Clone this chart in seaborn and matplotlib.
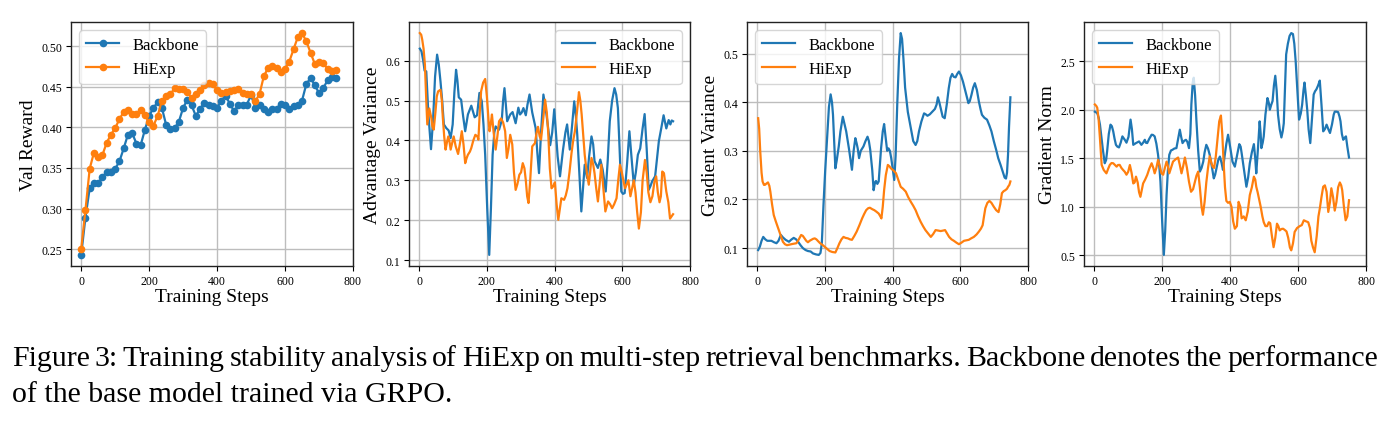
import numpy as np
import matplotlib
matplotlib.use("Agg")
import matplotlib.pyplot as plt
import seaborn as sns

plt.rcParams['font.family'] = ['Liberation Serif', 'DejaVu Serif']
plt.rcParams['mathtext.fontset'] = 'stix'

BLUE = '#1f77b4'
ORANGE = '#ff7f0e'

# ---- panel 1: validation reward (evaluated every 12.5 steps) ----
val_steps = np.arange(0, 751, 12.5)
val_backbone = [0.243, 0.289, 0.325, 0.332, 0.331, 0.339, 0.345, 0.345, 0.349, 0.358,
                0.374, 0.391, 0.393, 0.380, 0.378, 0.397, 0.414, 0.424, 0.431, 0.424,
                0.403, 0.398, 0.399, 0.407, 0.424, 0.434, 0.427, 0.414, 0.423, 0.430,
                0.427, 0.426, 0.424, 0.433, 0.439, 0.429, 0.420, 0.427, 0.428, 0.428,
                0.440, 0.424, 0.428, 0.423, 0.419, 0.422, 0.423, 0.429, 0.427, 0.422,
                0.426, 0.427, 0.433, 0.453, 0.461, 0.452, 0.442, 0.448, 0.458, 0.462,
                0.461]
val_hiexp = [0.250, 0.298, 0.349, 0.369, 0.364, 0.366, 0.381, 0.391, 0.399, 0.410,
             0.419, 0.421, 0.416, 0.417, 0.421, 0.415, 0.406, 0.402, 0.414, 0.433,
             0.438, 0.441, 0.448, 0.447, 0.447, 0.443, 0.436, 0.441, 0.446, 0.452,
             0.455, 0.453, 0.446, 0.442, 0.443, 0.445, 0.446, 0.447, 0.442, 0.441,
             0.441, 0.432, 0.441, 0.463, 0.473, 0.475, 0.473, 0.468, 0.472, 0.481,
             0.496, 0.511, 0.516, 0.506, 0.492, 0.478, 0.480, 0.479, 0.472, 0.469,
             0.471]

# ---- panel 2: advantage variance ----
adv_bb_steps = [2, 7, 12, 16, 21, 27, 35, 41, 47, 53, 58, 63, 68, 73, 80, 87, 93, 99, 104, 109,
                113, 117, 124, 130, 136, 144, 154, 164, 171, 178, 185, 190, 195, 201, 207, 212,
                217, 222, 226, 231, 236, 244, 248, 252, 256, 260, 269, 276, 285, 293, 298, 303,
                308, 315, 320, 326, 334, 344, 349, 354, 360, 367, 376, 381, 387, 393, 399, 404,
                409, 416, 425, 432, 437, 445, 452, 458, 463, 467, 473, 479, 484, 489, 496, 502,
                509, 514, 518, 528, 535, 542, 551, 557, 563, 570, 577, 582, 587, 592, 597, 602,
                607, 614, 621, 627, 634, 640, 646, 653, 660, 666, 672, 678, 683, 688, 697, 702,
                708, 715, 722, 730, 737, 742, 746, 750]
adv_bb_vals = [0.630, 0.623, 0.600, 0.575, 0.573, 0.470, 0.378, 0.450, 0.560, 0.615, 0.590,
               0.548, 0.500, 0.440, 0.431, 0.425, 0.406, 0.440, 0.520, 0.577, 0.550, 0.508,
               0.502, 0.460, 0.423, 0.465, 0.487, 0.458, 0.463, 0.519, 0.498, 0.440, 0.364,
               0.230, 0.113, 0.230, 0.364, 0.420, 0.435, 0.430, 0.427, 0.450, 0.500, 0.531,
               0.490, 0.448, 0.465, 0.471, 0.443, 0.482, 0.465, 0.470, 0.481, 0.463, 0.490,
               0.515, 0.470, 0.431, 0.370, 0.318, 0.420, 0.515, 0.465, 0.431, 0.388, 0.420,
               0.478, 0.420, 0.360, 0.310, 0.377, 0.420, 0.440, 0.377, 0.440, 0.498, 0.460,
               0.414, 0.320, 0.222, 0.280, 0.339, 0.306, 0.360, 0.410, 0.390, 0.348, 0.331,
               0.352, 0.327, 0.272, 0.350, 0.448, 0.500, 0.531, 0.515, 0.481, 0.380, 0.272,
               0.266, 0.268, 0.340, 0.423, 0.360, 0.289, 0.320, 0.364, 0.380, 0.430, 0.466,
               0.380, 0.276, 0.285, 0.297, 0.310, 0.350, 0.398, 0.430, 0.463, 0.430, 0.451,
               0.440, 0.450, 0.448]
adv_hx_steps = [2, 6, 9, 13, 17, 21, 24, 30, 36, 39, 43, 48, 52, 56, 63, 67, 70, 74, 78, 82,
                86, 90, 93, 98, 102, 108, 115, 120, 126, 131, 136, 140, 144, 150, 154, 160, 166,
                172, 175, 179, 183, 189, 195, 200, 205, 208, 212, 215, 220, 226, 231, 236, 242,
                248, 254, 259, 264, 269, 275, 280, 285, 290, 296, 301, 306, 311, 315, 319, 323,
                328, 334, 342, 347, 351, 356, 360, 366, 372, 377, 381, 386, 391, 396, 401, 406,
                411, 416, 420, 428, 433, 438, 444, 450, 455, 460, 466, 472, 476, 480, 485, 489,
                495, 501, 505, 509, 514, 518, 523, 528, 533, 538, 544, 550, 554, 558, 564, 570,
                576, 583, 588, 593, 598, 603, 608, 613, 618, 624, 629, 634, 639, 644, 649, 655,
                660, 667, 672, 677, 683, 689, 695, 700, 705, 710, 714, 718, 723, 730, 736, 741,
                746, 750]
adv_hx_vals = [0.669, 0.665, 0.653, 0.630, 0.590, 0.500, 0.440, 0.480, 0.456, 0.435, 0.427,
               0.470, 0.510, 0.523, 0.527, 0.500, 0.456, 0.410, 0.377, 0.395, 0.410, 0.395,
               0.377, 0.395, 0.410, 0.385, 0.366, 0.390, 0.423, 0.390, 0.343, 0.355, 0.364,
               0.372, 0.381, 0.400, 0.414, 0.410, 0.402, 0.470, 0.523, 0.545, 0.554, 0.510,
               0.450, 0.423, 0.445, 0.465, 0.420, 0.377, 0.410, 0.448, 0.455, 0.445, 0.423,
               0.356, 0.380, 0.414, 0.390, 0.320, 0.276, 0.290, 0.314, 0.320, 0.343, 0.330,
               0.300, 0.260, 0.243, 0.300, 0.385, 0.393, 0.420, 0.434, 0.410, 0.402, 0.450,
               0.502, 0.470, 0.423, 0.330, 0.280, 0.285, 0.295, 0.240, 0.201, 0.230, 0.255,
               0.251, 0.262, 0.280, 0.320, 0.368, 0.400, 0.423, 0.470, 0.521, 0.500, 0.465,
               0.410, 0.364, 0.320, 0.289, 0.320, 0.356, 0.340, 0.318, 0.280, 0.247, 0.290,
               0.339, 0.280, 0.222, 0.235, 0.247, 0.240, 0.230, 0.240, 0.255, 0.300, 0.339,
               0.323, 0.300, 0.280, 0.290, 0.300, 0.260, 0.280, 0.300, 0.270, 0.220, 0.179,
               0.220, 0.300, 0.351, 0.320, 0.270, 0.245, 0.260, 0.297, 0.310, 0.270, 0.245,
               0.260, 0.322, 0.318, 0.272, 0.245, 0.204, 0.210, 0.215]

# ---- panel 3: gradient variance ----
gv_bb_steps = [3, 8, 13, 18, 24, 30, 42, 50, 57, 63, 70, 76, 84, 94, 100, 108, 115, 121, 128,
               135, 143, 150, 158, 165, 174, 182, 187, 191, 196, 201, 206, 212, 217, 221, 224,
               228, 231, 235, 241, 246, 253, 258, 263, 271, 276, 280, 285, 290, 294, 297, 301,
               306, 314, 320, 326, 330, 334, 340, 344, 348, 351, 355, 359, 366, 371, 375, 379,
               384, 388, 392, 396, 400, 405, 409, 414, 419, 424, 428, 432, 437, 445, 454, 461,
               468, 473, 478, 485, 493, 498, 503, 510, 518, 525, 530, 534, 538, 542, 548, 554,
               560, 566, 571, 576, 581, 586, 591, 596, 602, 608, 616, 624, 628, 633, 638, 643,
               649, 655, 660, 664, 671, 679, 686, 692, 699, 706, 712, 719, 725, 731, 735, 738,
               741, 744, 748]
gv_bb_vals = [0.096, 0.103, 0.115, 0.123, 0.118, 0.115, 0.115, 0.112, 0.110, 0.115, 0.127,
              0.122, 0.117, 0.113, 0.117, 0.121, 0.118, 0.113, 0.106, 0.100, 0.096, 0.094,
              0.093, 0.089, 0.087, 0.086, 0.090, 0.110, 0.190, 0.260, 0.320, 0.390, 0.416,
              0.400, 0.374, 0.310, 0.264, 0.280, 0.309, 0.340, 0.370, 0.355, 0.340, 0.305,
              0.280, 0.261, 0.300, 0.326, 0.315, 0.305, 0.285, 0.300, 0.309, 0.320, 0.329,
              0.320, 0.302, 0.260, 0.219, 0.235, 0.238, 0.232, 0.237, 0.305, 0.340, 0.355,
              0.330, 0.300, 0.305, 0.300, 0.285, 0.265, 0.240, 0.290, 0.400, 0.490, 0.542,
              0.530, 0.490, 0.430, 0.380, 0.346, 0.320, 0.312, 0.320, 0.340, 0.360, 0.377,
              0.375, 0.372, 0.375, 0.381, 0.386, 0.395, 0.410, 0.400, 0.388, 0.370, 0.367,
              0.395, 0.429, 0.450, 0.458, 0.452, 0.451, 0.458, 0.463, 0.455, 0.442, 0.420,
              0.398, 0.402, 0.415, 0.430, 0.439, 0.425, 0.401, 0.385, 0.374, 0.368, 0.364,
              0.352, 0.340, 0.320, 0.302, 0.285, 0.271, 0.258, 0.245, 0.243, 0.255, 0.292,
              0.350, 0.410]
gv_hx_steps = [3, 6, 9, 13, 16, 20, 23, 28, 32, 36, 39, 44, 49, 55, 62, 69, 76, 82, 88, 95,
               101, 108, 116, 123, 130, 135, 140, 145, 150, 155, 160, 165, 170, 175, 179, 186,
               194, 204, 214, 222, 231, 237, 243, 249, 255, 261, 268, 274, 280, 287, 294, 302,
               310, 316, 322, 328, 333, 340, 346, 352, 359, 364, 367, 371, 375, 380, 386, 391,
               395, 402, 410, 417, 424, 431, 439, 446, 454, 461, 468, 475, 483, 490, 497, 505,
               513, 520, 527, 535, 542, 549, 555, 561, 567, 574, 581, 589, 596, 603, 611, 618,
               625, 632, 640, 648, 655, 661, 666, 670, 674, 680, 686, 692, 699, 706, 713, 718,
               723, 728, 733, 738, 741, 745, 748]
gv_hx_vals = [0.367, 0.345, 0.300, 0.255, 0.237, 0.230, 0.230, 0.233, 0.235, 0.228, 0.216,
              0.190, 0.168, 0.155, 0.141, 0.127, 0.113, 0.108, 0.106, 0.107, 0.108, 0.109,
              0.110, 0.118, 0.127, 0.125, 0.120, 0.115, 0.112, 0.115, 0.117, 0.119, 0.120,
              0.118, 0.115, 0.110, 0.106, 0.100, 0.094, 0.092, 0.091, 0.100, 0.110, 0.118,
              0.123, 0.121, 0.120, 0.118, 0.117, 0.125, 0.134, 0.147, 0.161, 0.170, 0.178,
              0.182, 0.183, 0.180, 0.178, 0.175, 0.171, 0.165, 0.161, 0.185, 0.219, 0.250,
              0.271, 0.268, 0.264, 0.260, 0.254, 0.240, 0.226, 0.222, 0.216, 0.205, 0.195,
              0.187, 0.178, 0.166, 0.154, 0.145, 0.137, 0.130, 0.123, 0.129, 0.137, 0.136,
              0.135, 0.136, 0.137, 0.130, 0.123, 0.118, 0.115, 0.111, 0.108, 0.111, 0.115,
              0.116, 0.117, 0.120, 0.123, 0.128, 0.134, 0.140, 0.147, 0.165, 0.182, 0.193,
              0.197, 0.193, 0.185, 0.178, 0.174, 0.190, 0.213, 0.217, 0.219, 0.222, 0.226,
              0.230, 0.237]

# ---- panel 4: gradient norm ----
gn_bb_steps = [2, 9, 13, 17, 21, 25, 31, 35, 38, 43, 48, 52, 56, 60, 64, 68, 73, 78, 83, 90,
               95, 101, 107, 111, 115, 123, 132, 139, 144, 149, 152, 156, 162, 169, 173, 178,
               183, 188, 192, 195, 200, 205, 209, 213, 217, 221, 226, 230, 236, 242, 247, 252,
               256, 260, 265, 270, 274, 279, 283, 286, 290, 293, 297, 301, 306, 311, 316, 321,
               325, 330, 335, 340, 346, 352, 356, 360, 365, 370, 375, 379, 383, 389, 394, 400,
               407, 414, 420, 427, 431, 434, 441, 448, 453, 458, 464, 470, 474, 477, 482, 487,
               490, 492, 496, 499, 504, 510, 514, 517, 521, 525, 529, 533, 537, 541, 546, 551,
               555, 558, 562, 565, 570, 575, 580, 585, 589, 593, 598, 603, 608, 612, 616, 619,
               623, 627, 631, 636, 641, 646, 650, 654, 659, 664, 669, 674, 679, 684, 689, 694,
               700, 705, 708, 713, 718, 722, 725, 729, 733, 737, 741, 745, 750]
gn_bb_vals = [1.98, 1.965, 1.92, 1.846, 1.72, 1.604, 1.448, 1.48, 1.569, 1.75, 1.846, 1.83,
              1.777, 1.70, 1.638, 1.62, 1.611, 1.66, 1.725, 1.69, 1.66, 1.72, 1.898, 1.80,
              1.638, 1.656, 1.673, 1.638, 1.66, 1.69, 1.66, 1.656, 1.70, 1.742, 1.74, 1.725,
              1.65, 1.535, 1.40, 1.258, 0.85, 0.503, 0.75, 1.12, 1.38, 1.535, 1.58, 1.586,
              1.60, 1.604, 1.70, 1.794, 1.72, 1.656, 1.68, 1.69, 1.67, 1.604, 1.75, 2.054,
              2.28, 2.33, 2.15, 1.88, 1.58, 1.362, 1.40, 1.465, 1.56, 1.638, 1.60, 1.535,
              1.42, 1.292, 1.33, 1.396, 1.48, 1.517, 1.45, 1.380, 1.50, 1.65, 1.742, 1.62,
              1.465, 1.413, 1.52, 1.645, 1.62, 1.552, 1.38, 1.206, 1.30, 1.448, 1.56, 1.645,
              1.50, 1.344, 1.60, 1.88, 1.75, 1.604, 1.66, 1.725, 1.95, 2.12, 2.07, 2.00, 2.05,
              2.09, 2.25, 2.35, 2.20, 1.95, 1.80, 1.714, 1.78, 1.86, 2.25, 2.57, 2.68, 2.76,
              2.79, 2.78, 2.68, 2.50, 2.20, 1.898, 1.96, 2.05, 2.20, 2.28, 2.15, 2.00, 1.80,
              1.656, 1.90, 2.157, 2.19, 2.21, 2.25, 2.30, 2.05, 1.777, 1.80, 1.846, 1.80, 1.76,
              1.85, 1.95, 1.98, 1.98, 1.975, 1.93, 1.88, 1.75, 1.69, 1.71, 1.725, 1.62, 1.507]
gn_hx_steps = [2, 6, 9, 13, 17, 22, 28, 36, 41, 46, 51, 56, 61, 66, 70, 75, 80, 85, 90, 95,
               100, 105, 110, 115, 119, 123, 128, 132, 136, 140, 144, 150, 156, 162, 169, 174,
               178, 183, 188, 193, 198, 203, 208, 213, 217, 221, 226, 232, 240, 247, 252, 257,
               262, 267, 273, 279, 285, 291, 296, 301, 306, 311, 316, 320, 325, 330, 335, 340,
               345, 349, 353, 358, 363, 368, 373, 377, 381, 385, 389, 394, 399, 404, 409, 414,
               420, 425, 430, 434, 440, 446, 452, 458, 464, 470, 474, 477, 481, 485, 490, 495,
               499, 504, 509, 514, 518, 523, 528, 533, 538, 542, 546, 551, 556, 561, 566, 571,
               576, 580, 585, 590, 597, 605, 611, 617, 623, 630, 635, 639, 644, 649, 655, 660,
               664, 669, 674, 679, 684, 689, 694, 698, 703, 708, 713, 718, 723, 727, 730, 735,
               740, 745, 750]
gn_hx_vals = [2.054, 2.04, 2.02, 1.90, 1.70, 1.431, 1.379, 1.344, 1.39, 1.431, 1.45, 1.448,
              1.43, 1.413, 1.43, 1.431, 1.40, 1.379, 1.36, 1.33, 1.36, 1.43, 1.35, 1.24, 1.25,
              1.31, 1.25, 1.15, 1.102, 1.17, 1.24, 1.28, 1.327, 1.39, 1.448, 1.40, 1.344,
              1.40, 1.483, 1.42, 1.344, 1.33, 1.40, 1.465, 1.42, 1.344, 1.40, 1.465, 1.49,
              1.507, 1.43, 1.344, 1.42, 1.507, 1.40, 1.258, 1.154, 1.18, 1.25, 1.32, 1.362,
              1.20, 1.00, 0.917, 1.05, 1.25, 1.40, 1.52, 1.45, 1.41, 1.40, 1.52, 1.70, 1.88,
              1.94, 1.75, 1.45, 1.20, 1.06, 1.04, 1.05, 1.00, 0.85, 0.773, 0.80, 1.05, 1.00,
              0.88, 0.90, 0.86, 0.95, 1.12, 1.20, 1.31, 1.28, 1.206, 1.15, 1.085, 1.00, 0.90,
              0.84, 0.80, 0.80, 0.84, 0.83, 0.70, 0.583, 0.68, 0.825, 0.80, 0.756, 0.77,
              0.773, 0.76, 0.745, 0.68, 0.58, 0.55, 0.62, 0.74, 0.78, 0.80, 0.81, 0.86, 0.85,
              0.84, 0.78, 0.65, 0.58, 0.53, 0.70, 0.90, 0.98, 1.10, 1.206, 1.22, 1.154, 0.946,
              1.05, 1.19, 1.10, 0.96, 1.05, 1.20, 1.25, 1.22, 1.17, 1.00, 0.86, 0.90, 1.067]

CAPTION_1 = ("Figure 3: Training stability analysis of HiExp on multi-step retrieval "
             "benchmarks. Backbone denotes the performance")
CAPTION_2 = "of the base model trained via GRPO."

W, H = 1395, 427
fig = plt.figure(figsize=(W / 100, H / 100), dpi=100)

boxes = [(71, 353), (409, 690), (747, 1028), (1084, 1366)]
top, bottom = 23, 267
axes = [fig.add_axes([x0 / W, (H - bottom) / H, (x1 - x0) / W, (bottom - top) / H])
        for x0, x1 in boxes]

panels = [
    (val_steps, val_backbone, val_steps, val_hiexp, "Val Reward", "upper left", True),
    (adv_bb_steps, adv_bb_vals, adv_hx_steps, adv_hx_vals, "Advantage Variance", "upper right", False),
    (gv_bb_steps, gv_bb_vals, gv_hx_steps, gv_hx_vals, "Gradient Variance", "upper left", False),
    (gn_bb_steps, gn_bb_vals, gn_hx_steps, gn_hx_vals, "Gradient Norm", "upper left", False),
]

for ax, (xb, yb, xh, yh, ylabel, loc, markers) in zip(axes, panels):
    kw = dict(marker='o', markersize=5.5, markeredgewidth=0) if markers else {}
    sns.lineplot(x=xb, y=yb, ax=ax, color=BLUE, lw=1.6, label="Backbone",
                 estimator=None, sort=False, **kw)
    sns.lineplot(x=xh, y=yh, ax=ax, color=ORANGE, lw=1.6, label="HiExp",
                 estimator=None, sort=False, **kw)
    ax.set_xlim(-30, 800)
    ax.set_xticks([0, 200, 400, 600, 800])
    ax.grid(True, color='#bdbdbd', lw=1.0)
    ax.set_axisbelow(True)
    ax.set_xlabel("Training Steps", fontsize=14, labelpad=1)
    ax.set_ylabel(ylabel, fontsize=14, labelpad=3)
    ax.tick_params(labelsize=8.5, width=0.8, length=3.5, pad=3)
    for s in ax.spines.values():
        s.set_linewidth(1.0)
        s.set_color('#222222')
    ax.legend(loc=loc, fontsize=12, handlelength=2.0, borderaxespad=0.5)

# caption, first line justified like the LaTeX original
renderer = fig.canvas.get_renderer()
x_left, x_right = 12, 1378
cap_size = 21.5
words = CAPTION_1.split()
texts = [fig.text(0, (H - 366) / H, w, fontsize=cap_size, va='baseline') for w in words]
widths = [t.get_window_extent(renderer).width for t in texts]
gap = (x_right - x_left - sum(widths)) / (len(words) - 1)
xpos = x_left
for t, w in zip(texts, widths):
    t.set_x(xpos / W)
    xpos += w + gap
fig.text(x_left / W, (H - 402) / H, CAPTION_2, fontsize=cap_size, va='baseline')

fig.savefig("out.png", dpi=100)
